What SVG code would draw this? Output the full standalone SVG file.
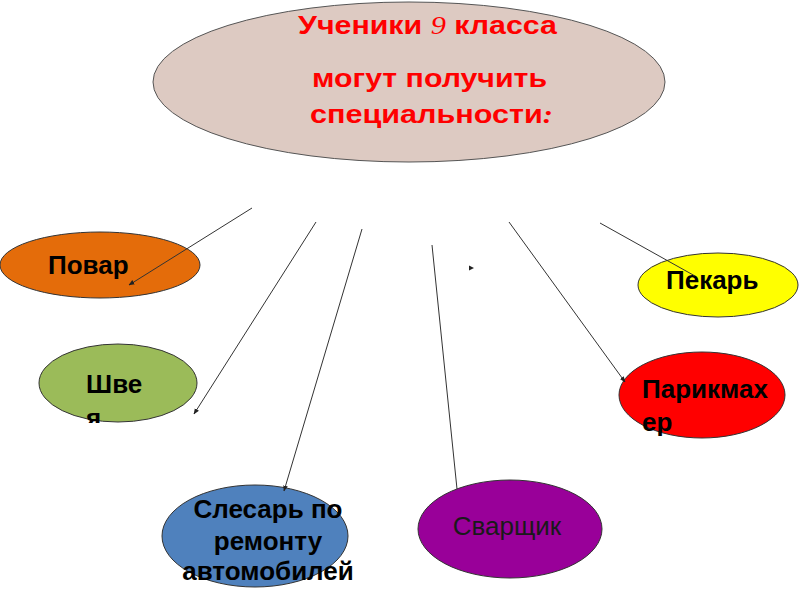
<svg xmlns="http://www.w3.org/2000/svg" width="800" height="600" viewBox="0 0 800 600">
<defs>
<marker id="arr" viewBox="0 0 10 10" refX="9" refY="5" markerWidth="6" markerHeight="6" orient="auto" markerUnits="userSpaceOnUse">
<path d="M0,1 L10,5 L0,9 z" fill="#222"/>
</marker>
<clipPath id="clipShveya"><rect x="0" y="330" width="220" height="93"/></clipPath>
</defs>
<style>
.node{stroke:#333;stroke-width:1}
.lbl{font-family:"Liberation Sans",Arial,sans-serif;font-weight:bold;font-size:26px;fill:#000}
.title{font-family:"Liberation Sans",Arial,sans-serif;font-weight:bold;font-size:26px;fill:#FF0000}
.conn{stroke:#333;stroke-width:1;fill:none}
</style>
<rect width="800" height="600" fill="#fff"/>
<g id="top">
<ellipse cx="409" cy="82" rx="256" ry="80" fill="#DDCAC2" stroke="#555" stroke-width="1"/>
<text class="title" x="298" y="34" textLength="259" lengthAdjust="spacingAndGlyphs">Ученики <tspan font-family="'Liberation Serif',serif" font-style="italic" font-weight="normal">9</tspan> класса</text>
<text class="title" x="312" y="87" textLength="235" lengthAdjust="spacingAndGlyphs">могут получить</text>
<text class="title" x="310" y="123" textLength="243" lengthAdjust="spacingAndGlyphs">специальности<tspan font-family="'Liberation Serif',serif" font-style="italic">:</tspan></text>
</g>
<g id="povar">
<ellipse class="node" cx="100" cy="265" rx="100" ry="33" fill="#E46C0A"/>
<text class="lbl" x="48" y="274">Повар</text>
</g>
<g id="shveya">
<ellipse class="node" cx="118" cy="383" rx="79" ry="39" fill="#9BBB59"/>
<g clip-path="url(#clipShveya)">
<text class="lbl" x="86" y="393">Шве</text>
<text class="lbl" x="86" y="427">я</text>
</g>
</g>
<g id="slesar">
<ellipse class="node" cx="255" cy="536" rx="93" ry="51" fill="#4F81BD"/>
<text class="lbl" x="268" y="518" text-anchor="middle">Слесарь по</text>
<text class="lbl" x="268" y="550" text-anchor="middle">ремонту</text>
<text class="lbl" x="268" y="580" text-anchor="middle">автомобилей</text>
</g>
<g id="svarshik">
<ellipse class="node" cx="510" cy="529" rx="92" ry="49" fill="#990099"/>
<text x="507" y="535" text-anchor="middle" font-family="'Liberation Sans',Arial,sans-serif" font-size="26" fill="#1a1a1a">Сварщик</text>
</g>
<g id="pekar">
<ellipse class="node" cx="718" cy="285" rx="80" ry="32" fill="#FFFF00"/>
<text class="lbl" x="666" y="289">Пекарь</text>
</g>
<g id="parikmaher">
<ellipse class="node" cx="702" cy="395" rx="83" ry="43" fill="#FF0000"/>
<text class="lbl" x="642" y="398">Парикмах</text>
<text class="lbl" x="642" y="431">ер</text>
</g>
<g id="connectors">
<line class="conn" x1="252" y1="208" x2="129" y2="285" marker-end="url(#arr)"/>
<line class="conn" x1="316" y1="222" x2="194" y2="414" marker-end="url(#arr)"/>
<line class="conn" x1="362" y1="229" x2="284" y2="491" marker-end="url(#arr)"/>
<line class="conn" x1="432" y1="245" x2="457" y2="489"/>
<path d="M469,265.5 L474,268 L469,270.5 z" fill="#222"/>
<line class="conn" x1="509" y1="222" x2="625" y2="382" marker-end="url(#arr)"/>
<line class="conn" x1="600" y1="223" x2="695" y2="276"/>
</g>
</svg>
